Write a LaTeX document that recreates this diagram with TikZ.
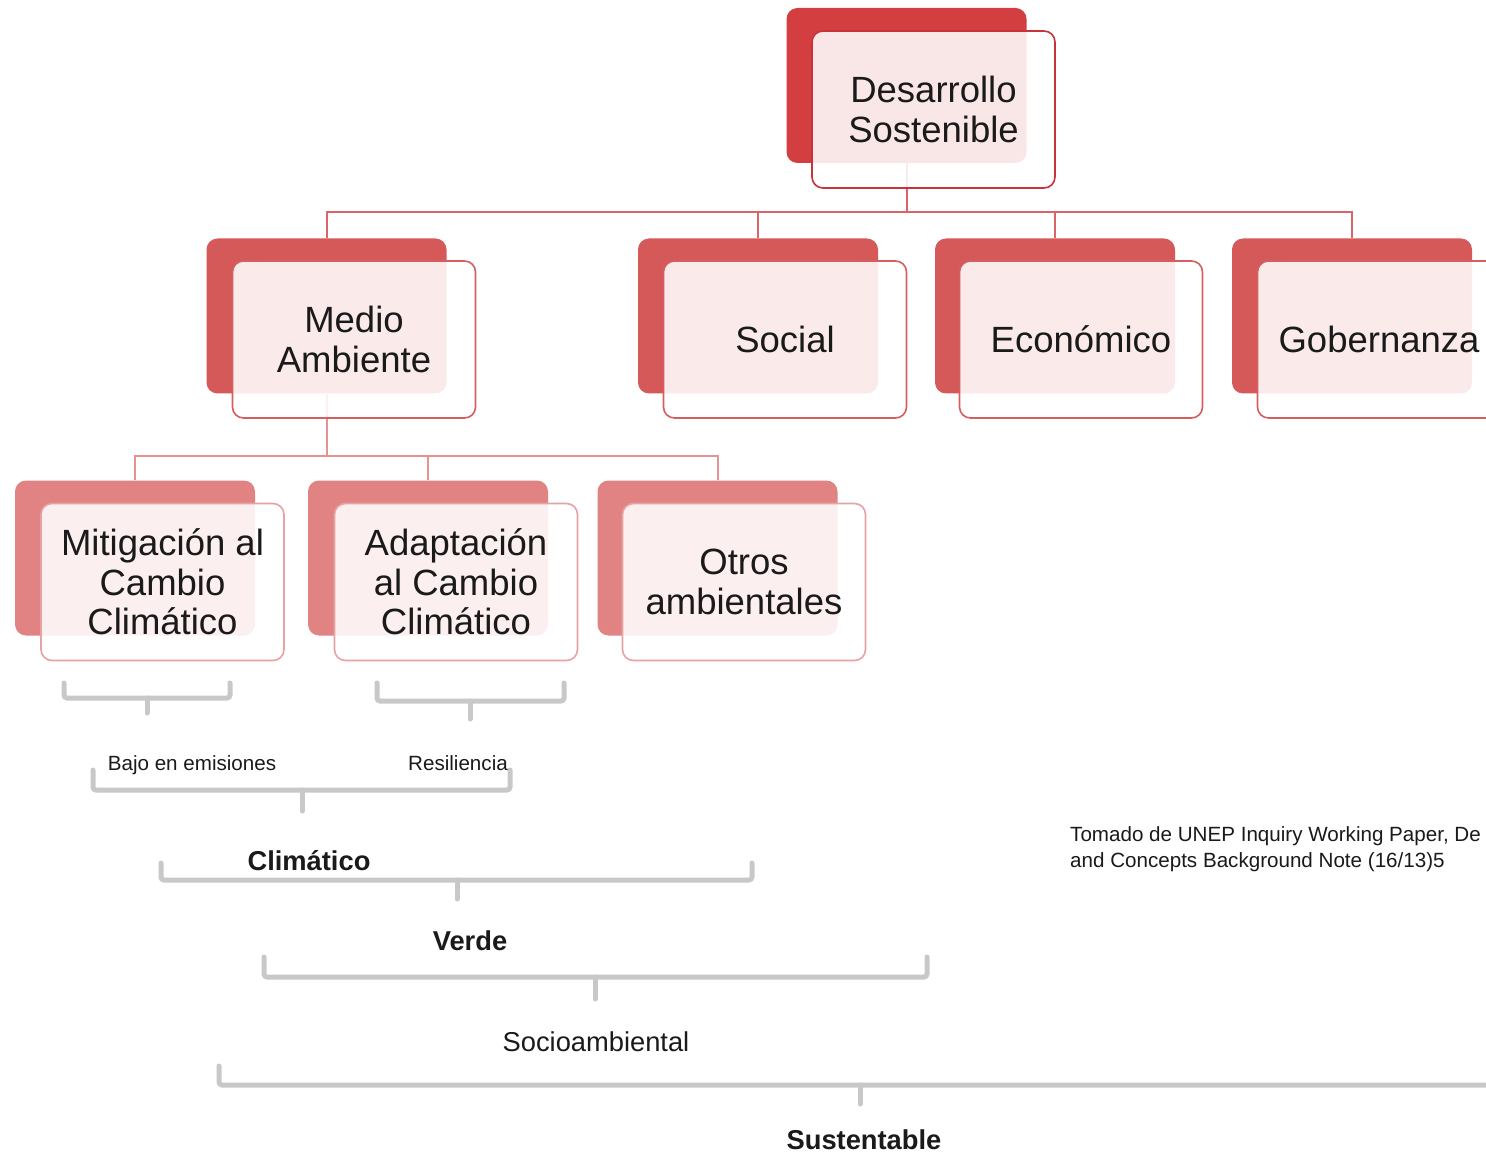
\documentclass[tikz,border=0pt]{standalone}
\usepackage{fontspec}
\setmainfont{Liberation Sans}
\definecolor{bkA}{HTML}{D33E41}
\definecolor{bkB}{HTML}{D65959}
\definecolor{bkC}{HTML}{E18383}
\definecolor{frA}{HTML}{C9323A}
\definecolor{frB}{HTML}{D55E5E}
\definecolor{frC}{HTML}{E7A2A2}
\definecolor{cnA}{HTML}{DA6466}
\definecolor{cnB}{HTML}{E69293}
\definecolor{brc}{HTML}{C8C8C8}
\definecolor{txt}{HTML}{1A1A1A}
\begin{document}
\begin{tikzpicture}[x=1pt,y=-1pt,
  bk/.style={rounded corners=11pt, minimum width=240pt, minimum height=155pt, inner sep=0pt},
  fr/.style={rounded corners=11pt, minimum width=243pt, minimum height=157pt, inner sep=0pt,
     line width=1.6pt, fill=white, fill opacity=0.88, text opacity=1, align=center,
     text=txt, font=\fontsize{36.5}{39.5}\selectfont},
  conn/.style={line width=2pt},
  bracket/.style={draw=brc, line width=5pt, rounded corners=3pt, line cap=round},
  small/.style={text=txt, inner sep=0pt, font=\fontsize{20.6}{26}\selectfont},
  mid/.style={text=txt, inner sep=0pt, font=\fontsize{27.3}{30}\selectfont},
  midb/.style={text=txt, inner sep=0pt, font=\fontsize{27.3}{30}\selectfont\bfseries}]
\useasboundingbox (0,0) rectangle (1486,1155);
\clip (0,0) rectangle (1486,1155);
\fill[white] (0,0) rectangle (1486,1155);

% back shapes
\node[bk, fill=bkA] (ds-b) at (906.5,85.5) {};
\node[bk, fill=bkB] (ma-b) at (326.5,316) {};
\node[bk, fill=bkB] (so-b) at (758,316) {};
\node[bk, fill=bkB] (ec-b) at (1055,316) {};
\node[bk, fill=bkB] (go-b) at (1352,316) {};
\node[bk, fill=bkC] (mi-b) at (135,558) {};
\node[bk, fill=bkC] (ad-b) at (428,558) {};
\node[bk, fill=bkC] (ot-b) at (717.5,558) {};

% connectors
\coordinate (bus1) at (906.5,212);
\coordinate (bus2) at (326.5,456);
\draw[conn, cnA] (ds-b.south) -- ++(0,27) -- (bus1);
\draw[conn, cnA] (bus1) -| (ma-b.north);
\draw[conn, cnA] (bus1) -| (so-b.north);
\draw[conn, cnA] (bus1) -| (ec-b.north);
\draw[conn, cnA] (bus1) -| (go-b.north);
\draw[conn, cnB] (ma-b.south) -- (bus2);
\draw[conn, cnB] (bus2) -| (mi-b.north);
\draw[conn, cnB] (bus2) -| (ad-b.north);
\draw[conn, cnB] (bus2) -| (ot-b.north);

% front boxes
\node[fr, draw=frA] (ds) at (933.5,109.5) {Desarrollo\\Sostenible};
\node[fr, draw=frB] (ma) at (354,339.5) {Medio\\Ambiente};
\node[fr, draw=frB] (so) at (785,339.5) {Social};
\node[fr, draw=frB] (ec) at (1081,339.5) {Económico};
\node[fr, draw=frB] (go) at (1379,339.5) {Gobernanza};
\node[fr, draw=frC] (mi) at (162.5,582) {Mitigación al\\Cambio\\Climático};
\node[fr, draw=frC] (ad) at (456,582) {Adaptación\\al Cambio\\Climático};
\node[fr, draw=frC] (ot) at (744,582) {Otros\\ambientales};

% brackets
\draw[bracket] (64,683) -- (64,698) -- (230,698) -- (230,683);
\draw[bracket] (147,698) -- (147,713);
\draw[bracket] (377,683) -- (377,701) -- (564,701) -- (564,683);
\draw[bracket] (470,701) -- (470,719);
\draw[bracket] (93,770) -- (93,790) -- (510,790) -- (510,770);
\draw[bracket] (302,790) -- (302,811);
\draw[bracket] (161,863) -- (161,880) -- (752,880) -- (752,863);
\draw[bracket] (457,880) -- (457,899);
\draw[bracket] (264,957) -- (264,977) -- (927,977) -- (927,957);
\draw[bracket] (595,977) -- (595,999);
\draw[bracket] (219,1066) -- (219,1085) -- (1510,1085);
\draw[bracket] (860,1085) -- (860,1104);

% labels
\node[small] (l1) at (192,765) {Bajo en emisiones};
\node[small] (l2) at (458,763) {Resiliencia};
\node[midb] (l3) at (309,861) {Climático};
\node[midb] (l4) at (470,941) {Verde};
\node[mid] (l5) at (596,1042) {Socioambiental};
\node[midb] (l6) at (864,1140) {Sustentable};
\node[small, anchor=west, align=left] (note) at (1070,849)
  {Tomado de UNEP Inquiry Working Paper, De\\and Concepts Background Note (16/13)5};
\end{tikzpicture}
\end{document}
